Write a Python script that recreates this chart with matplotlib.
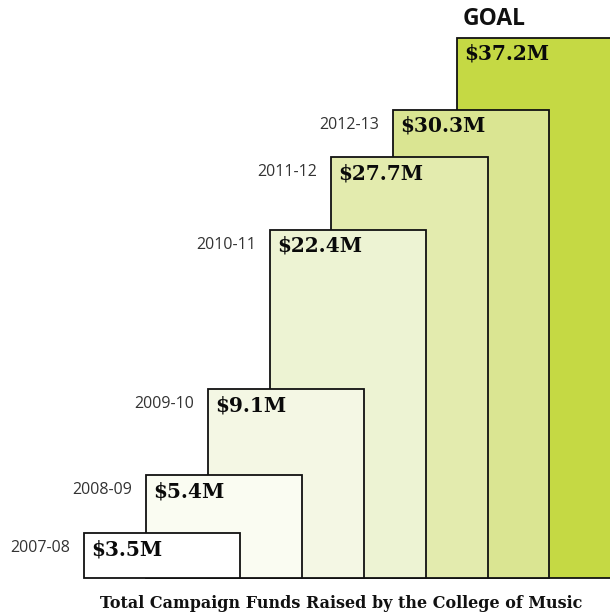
import matplotlib.pyplot as plt

years = ['2007-08', '2008-09', '2009-10', '2010-11', '2011-12', '2012-13', 'GOAL']
amounts = ['$3.5M', '$5.4M', '$9.1M', '$22.4M', '$27.7M', '$30.3M', '$37.2M']
# step heights as drawn in the graphic (not to scale with amounts)
heights = [45, 103, 189, 348, 421, 468, 540]
lefts = [84, 146, 208, 270, 331, 393, 457]
widths = [156, 156, 156, 156, 157, 156, 160]
colors = ['#ffffff', '#fafcf2', '#f4f7e4', '#edf3d3', '#e3ebae', '#dae592', '#c5d944']

fig = plt.figure(figsize=(6.1, 6.14), dpi=100)
ax = fig.add_axes([0, 0, 1, 1])
ax.set_xlim(0, 610)
ax.set_ylim(0, 614)
ax.axis('off')

base = 36
n = len(years)
for i in range(n):
    ax.bar(lefts[i], heights[i], width=widths[i], bottom=base, align='edge',
           color=colors[i], edgecolor='#111111', linewidth=1.3, zorder=10 + n - i)
    top = base + heights[i]
    ax.text(lefts[i] + 7, top - 6, amounts[i], ha='left', va='top',
            fontsize=14.5, fontweight='bold', family='DejaVu Serif',
            color='#0a0a0a', zorder=30)
    if years[i] != 'GOAL':
        ax.text(lefts[i] - 14, top - 15, years[i], ha='right', va='center',
                fontsize=11.5, family='Open Sans', color='#333333', zorder=30)
    else:
        ax.text(lefts[i] + 6, top + 19, years[i], ha='left', va='center',
                fontsize=16.5, fontweight='bold', family='Open Sans',
                color='#111111', zorder=30)

ax.text(341, 11, 'Total Campaign Funds Raised by the College of Music',
        ha='center', va='center', fontsize=11.5, fontweight='bold',
        family='DejaVu Serif', color='#111111')

fig.savefig('out.png', dpi=100)
